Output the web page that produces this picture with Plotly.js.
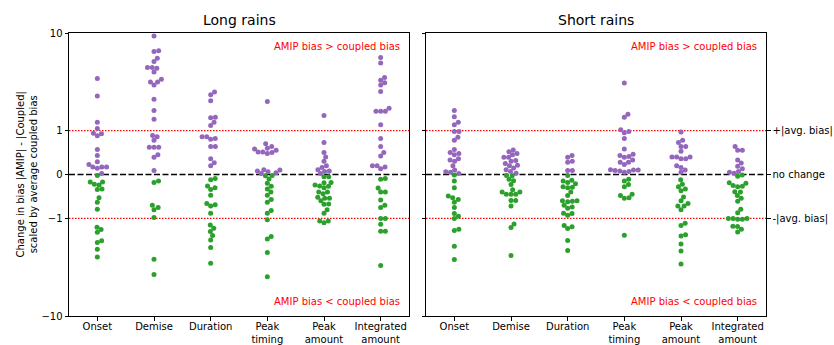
<!DOCTYPE html>
<html>
<head>
<meta charset="utf-8">
<script src="https://cdn.plot.ly/plotly-3.0.1.min.js"></script>
<style>html,body{margin:0;padding:0;background:#fff;}#chart{width:834px;height:345px;}</style>
</head>
<body>
<div id="chart"></div>
<script>
// ---------------- data ----------------
const categories = ['Onset', 'Demise', 'Duration', 'Peak timing', 'Peak amount', 'Integrated amount'];
const categoryTickText = ['Onset', 'Demise', 'Duration', 'Peak<br>timing', 'Peak<br>amount', 'Integrated<br>amount'];
const panelTitles = ['Long rains', 'Short rains'];

const longOnset = [3.41,2.26,1.22,1.05,0.93,0.88,0.94,0.57,0.43,0.29,0.23,0.17,0.14,0.17,0.17,0.02,-0.02,-0.17,-0.24,-0.17,-0.22,-0.34,-0.33,-0.53,-0.63,-0.79,-1.23,-1.30,-1.39,-1.69,-1.77,-2.07,-2.48];
const longDemise = [9.31,6.57,6.48,5.52,5.10,4.43,4.36,4.43,3.99,3.36,3.15,3.15,2.93,2.10,1.61,1.31,0.86,0.89,0.78,0.62,0.62,0.62,0.45,0.39,0.09,-0.15,-0.18,-0.70,-0.80,-0.75,-0.98,-2.62,-3.76];
const longDuration = [2.48,2.33,2.02,1.37,1.35,1.22,1.13,0.86,0.82,0.80,0.86,0.64,0.64,0.36,0.27,0.20,-0.09,-0.12,-0.30,-0.26,-0.34,-0.47,-0.66,-0.69,-0.72,-0.88,-1.17,-1.26,-1.36,-1.50,-1.66,-1.99,-2.88];
const longPeakTiming = [1.99,0.70,0.60,0.55,0.50,0.48,0.51,0.51,0.58,0.64,0.08,0.04,0.10,0.02,0.06,0.11,-0.02,-0.03,-0.10,-0.20,-0.27,-0.33,-0.40,-0.47,-0.57,-0.63,-0.88,-0.82,-1.03,-1.53,-1.63,-2.24,-3.97];
const longPeakAmount = [1.43,0.73,0.50,0.40,0.30,0.20,0.11,0.16,0.08,0.02,0.07,-0.05,-0.05,-0.18,-0.24,-0.27,-0.26,-0.19,-0.40,-0.40,-0.44,-0.54,-0.52,-0.54,-0.60,-0.68,-0.67,-0.80,-0.88,-1.06,-1.11,-1.06,-0.30];
const longIntegrated = [5.62,4.94,3.49,3.28,3.10,2.93,2.52,1.69,1.58,1.58,1.58,1.15,0.82,0.64,0.50,0.42,0.17,0.13,0.20,0.20,-0.09,-0.11,-0.31,-0.40,-0.40,-0.58,-0.70,-0.75,-1.00,-1.00,-1.15,-1.35,-1.35,-3.04];

const shortOnset = [1.61,1.39,1.22,1.15,0.98,0.98,0.85,0.78,0.57,0.48,0.45,0.50,0.33,0.30,0.36,0.20,0.10,0.06,0.02,0.05,-0.01,-0.15,-0.30,-0.53,-0.57,-0.49,-0.63,-0.75,-0.89,-0.95,-1.00,-1.29,-1.33,-1.93,-2.64];
const shortDemise = [0.56,0.52,0.48,0.45,0.39,0.39,0.30,0.32,0.25,0.21,0.20,0.15,0.11,0.07,0.03,-0.02,-0.03,-0.11,-0.14,-0.23,-0.35,-0.40,-0.45,-0.45,-0.45,-0.40,-0.59,-0.59,-0.72,-1.14,-1.24,-2.40];
const shortDuration = [0.43,0.39,0.30,0.28,0.09,0.09,-0.02,-0.13,-0.18,-0.15,-0.21,-0.29,-0.28,-0.30,-0.40,-0.48,-0.60,-0.62,-0.61,-0.60,-0.70,-0.74,-0.77,-0.88,-0.89,-0.93,-1.22,-1.27,-1.18,-1.68,-2.13];
const shortPeakTiming = [3.07,1.47,1.37,1.02,0.98,0.95,0.82,0.58,0.43,0.39,0.41,0.46,0.33,0.28,0.28,0.23,0.10,0.07,0.09,0.08,0.10,0.11,0.05,-0.11,-0.15,-0.23,-0.28,-0.45,-0.48,-0.53,-0.54,-1.49];
const shortPeakAmount = [0.97,0.78,0.73,0.64,0.64,0.53,0.40,0.40,0.40,0.36,0.36,0.20,0.16,0.10,0.05,-0.12,-0.22,-0.28,-0.33,-0.37,-0.51,-0.60,-0.66,-0.72,-0.72,-0.80,-1.12,-1.18,-1.47,-1.51,-1.83,-2.16,-2.93];
const shortIntegrated = [0.64,0.55,0.55,0.33,0.26,0.19,0.13,0.07,0.05,0.03,-0.01,-0.04,-0.20,-0.27,-0.19,-0.25,-0.28,-0.39,-0.40,-0.48,-0.54,-0.61,-0.79,-0.87,-1.00,-1.02,-1.00,-1.02,-1.00,-1.20,-1.21,-1.29,-1.38];

const longRains = [longOnset, longDemise, longDuration, longPeakTiming, longPeakAmount, longIntegrated];
const shortRains = [shortOnset, shortDemise, shortDuration, shortPeakTiming, shortPeakAmount, shortIntegrated];

const yTickValues = [10, 1, 0, -1, -10];
const yTickText = ['10', '1', '0', '\u22121', '\u221210'];
const refLineValues = [1, -1];
const rightTickValues = [1, 0, -1];
const rightTickText = ['+|avg. bias|', 'no change', '-|avg. bias|'];
const upperNote = 'AMIP bias > coupled bias';
const lowerNote = 'AMIP bias < coupled bias';
const yTitle = 'Change in bias |AMIP| - |Coupled|<br>scaled by average coupled bias';

// ---------------- symlog scale (linthresh = 1) ----------------
const LIN = 0.45;
function T(v) {
  const a = Math.abs(v);
  if (a <= 1) return v * LIN;
  return Math.sign(v) * (LIN + Math.log10(a));
}
const yMax = T(10);

// ---------------- geometry for beeswarm ----------------
const W = 834, H = 345;
const M = {l: 69, r: 68, t: 33, b: 29};
const plotW = W - M.l - M.r;
const panelW = 340;
const pxPerX = panelW / categories.length;
const pxPerY = (H - M.t - M.b) / (2 * yMax);
const DIAM = 4.7;

function swarm(vals) {
  const order = vals.map((v, i) => i).sort((a, b) => T(vals[a]) - T(vals[b]));
  const placed = [];
  const offs = new Array(vals.length);
  for (const i of order) {
    const y = T(vals[i]) * pxPerY;
    const nb = placed.filter(p => Math.abs(p.y - y) < DIAM);
    const cands = [0];
    for (const p of nb) {
      const dx = Math.sqrt(DIAM * DIAM - (p.y - y) * (p.y - y));
      cands.push(p.x + dx, p.x - dx);
    }
    cands.sort((a, b) => Math.abs(a) - Math.abs(b));
    let chosen = 0;
    for (const c of cands) {
      if (nb.every(p => (p.x - c) ** 2 + (p.y - y) ** 2 >= DIAM * DIAM - 1e-6)) { chosen = c; break; }
    }
    placed.push({x: chosen, y: y});
    offs[i] = chosen / pxPerX;
  }
  return offs;
}

const PURPLE = '#9467bd', GREEN = '#2ca02c';
const traces = [];
[longRains, shortRains].forEach((panel, pi) => {
  const pos = {x: [], y: []}, neg = {x: [], y: []};
  panel.forEach((vals, ci) => {
    const offs = swarm(vals);
    vals.forEach((v, k) => {
      const tgt = v > 0 ? pos : neg;
      tgt.x.push(ci + offs[k]);
      tgt.y.push(T(v));
    });
  });
  const xa = pi === 0 ? 'x' : 'x2', ya = pi === 0 ? 'y' : 'y2';
  traces.push({type: 'scatter', mode: 'markers', x: pos.x, y: pos.y, xaxis: xa, yaxis: ya,
    marker: {color: PURPLE, size: 5}, showlegend: false, hoverinfo: 'skip'});
  traces.push({type: 'scatter', mode: 'markers', x: neg.x, y: neg.y, xaxis: xa, yaxis: ya,
    marker: {color: GREEN, size: 5}, showlegend: false, hoverinfo: 'skip'});
});

const FONT = 'DejaVu Sans, sans-serif';
const d1 = [0, panelW / plotW];
const d2 = [(426 - M.l) / plotW, 1];
const catIdx = categories.map((c, i) => i);

const xCommon = {
  range: [-0.5, categories.length - 0.5], tickvals: catIdx, ticktext: categoryTickText,
  showline: true, linecolor: '#000', linewidth: 1, mirror: true, ticks: 'outside', ticklen: 3.5,
  tickcolor: '#000', showgrid: false, zeroline: false, tickfont: {family: FONT, size: 10, color: '#000'},
  ticklabelstandoff: -3, fixedrange: true
};
const yCommon = {
  range: [-yMax, yMax], tickvals: yTickValues.map(T), ticktext: yTickText,
  showline: true, linecolor: '#000', linewidth: 1, mirror: true, ticks: 'outside', ticklen: 3.5,
  tickcolor: '#000', showgrid: false, zeroline: false, tickfont: {family: FONT, size: 10, color: '#000'},
  fixedrange: true
};

const shapes = [];
const annotations = [];
[['x', 'y'], ['x2', 'y2']].forEach(([xa, ya], pi) => {
  refLineValues.forEach(v => shapes.push({type: 'line', xref: xa + ' domain', yref: ya, x0: 0, x1: 1,
    y0: T(v), y1: T(v), line: {color: '#ff0000', width: 1.2, dash: '1.5px,1.5px'}, layer: 'below'}));
  shapes.push({type: 'line', xref: xa + ' domain', yref: ya, x0: 0, x1: 1, y0: 0, y1: 0,
    line: {color: '#000', width: 1.5, dash: '6px,2.5px'}, layer: 'below'});
  annotations.push({xref: xa + ' domain', yref: ya + ' domain', x: 0.5, y: 1, yanchor: 'bottom', yshift: 3,
    text: panelTitles[pi], showarrow: false, font: {family: FONT, size: 14, color: '#000'}});
  annotations.push({xref: xa + ' domain', yref: ya + ' domain', x: 0.979, y: 0.951, xanchor: 'right', yanchor: 'middle',
    text: upperNote, showarrow: false, font: {family: FONT, size: 10, color: '#ff0000'}});
  annotations.push({xref: xa + ' domain', yref: ya + ' domain', x: 0.979, y: 0.053, xanchor: 'right', yanchor: 'middle',
    text: lowerNote, showarrow: false, font: {family: FONT, size: 10, color: '#ff0000'}});
});
annotations.push({xref: 'paper', yref: 'paper', x: (26 - M.l) / plotW, y: 0.5, xanchor: 'center', yanchor: 'middle',
  textangle: -90, text: yTitle, showarrow: false, font: {family: FONT, size: 10, color: '#000'}});

const layout = {
  width: W, height: H, margin: M, paper_bgcolor: '#fff', plot_bgcolor: '#fff',
  font: {family: FONT, size: 10, color: '#000'}, showlegend: false,
  xaxis: Object.assign({}, xCommon, {domain: d1, anchor: 'y'}),
  yaxis: Object.assign({}, yCommon, {domain: [0, 1], anchor: 'x'}),
  xaxis2: Object.assign({}, xCommon, {domain: d2, anchor: 'y2'}),
  yaxis2: Object.assign({}, yCommon, {domain: [0, 1], anchor: 'x2', showticklabels: false}),
  yaxis3: Object.assign({}, yCommon, {overlaying: 'y2', anchor: 'x2', side: 'right', showline: false, mirror: false,
    tickvals: rightTickValues.map(T), ticktext: rightTickText}),
  shapes: shapes, annotations: annotations
};
traces.push({type: 'scatter', mode: 'markers', x: [], y: [], xaxis: 'x2', yaxis: 'y3', showlegend: false, hoverinfo: 'skip'});

Plotly.newPlot('chart', traces, layout, {staticPlot: true, displayModeBar: false});
</script>
</body>
</html>
